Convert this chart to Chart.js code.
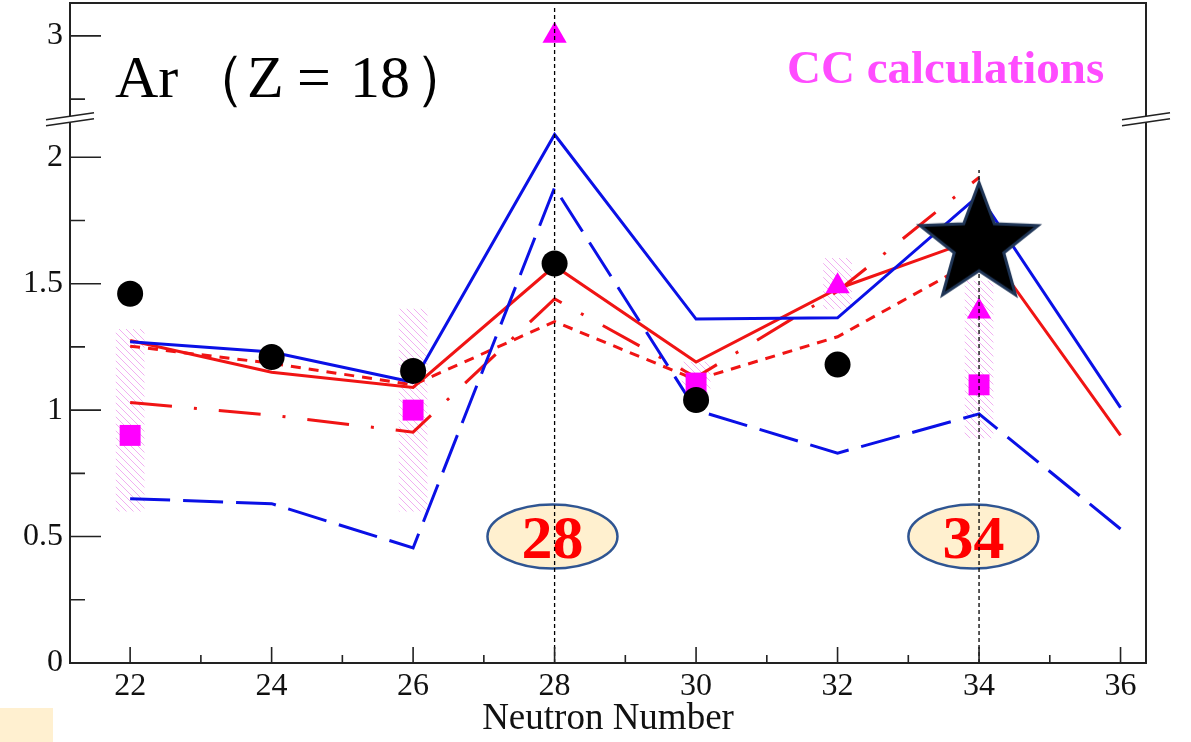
<!DOCTYPE html>
<html>
<head>
<meta charset="utf-8">
<script src="https://cdn.jsdelivr.net/npm/chart.js@4"></script>
<style>
html, body { margin: 0; padding: 0; background: #fff; }
</style>
</head>
<body>
<canvas id="ar" width="1191" height="742"></canvas>
<script>
// neutron numbers (x) for the calculated curves
const neutrons = [22, 24, 26, 28, 30, 32, 34, 36];
const blueSolid = [1.27, 1.23, 1.11, 2.09, 1.36, 1.365, 1.85, 1.01];
const blueDash = [0.65, 0.63, 0.455, 1.88, 1.0, 0.83, 0.985, 0.53];
const redSolid = [1.275, 1.15, 1.09, 1.57, 1.19, 1.48, 1.68, 0.90];
const redShortDash = [1.253, 1.185, 1.10, 1.35, 1.12, 1.29, 1.60];
const redDashDot = [1.03, 0.98, 0.913, 1.44, 1.13, 1.47, 1.92];

// experiment (black circles) and new point (star)
const expN = [22, 24, 26, 28, 30, 32];
const expVal = [1.46, 1.21, 1.155, 1.58, 1.04, 1.18];
const starN = [34];
const starVal = [1.654];

// CC calculations
const ccSquareN = [22, 26, 30, 34];
const ccSquareVal = [0.90, 1.00, 1.107, 1.10];
const ccTriN = [28, 32, 34];
const ccTriVal = [3.0, 1.49, 1.39];
const bandN = [22, 26, 30, 32, 34];
const bandLo = [0.60, 0.60, 1.07, 1.40, 0.89];
const bandHi = [1.32, 1.40, 1.19, 1.60, 1.51];

// shell closures marked on the plot
const shellN = [28, 34];
const shellTop = [3.12, 1.95];
const shellLabels = ['28', '34'];
const shellLabelN = [27.97, 33.92];
const shellLabelY = 0.5;

// axes
const xMajor = [22, 24, 26, 28, 30, 32, 34, 36];
const xMinor = [23, 25, 27, 29, 31, 33, 35];
const yMajor = [0, 0.5, 1, 1.5, 2, 3];
const yMajorLabels = ['0', '0.5', '1', '1.5', '2', '3'];
const yMinor = [0.25, 0.75, 1.25, 1.75, 2.75];

// broken y axis: values above the break are shifted down
const breakAt = 2.162;
const breakShift = 0.52;
function brk(v) { return v > 2.3 ? v - breakShift : v; }
function pts(xs, ys) { return ys.map((y, i) => ({ x: xs[i], y: brk(y) })); }

const serif = '"Liberation Serif", "Times New Roman", serif';

function hatch() {
  const c = document.createElement('canvas');
  const s = 7;
  c.width = s; c.height = s;
  const g = c.getContext('2d');
  g.strokeStyle = 'rgba(230,110,230,0.55)';
  g.lineWidth = 1;
  for (const k of [-s, 0, s]) {
    g.beginPath();
    g.moveTo(k, 0);
    g.lineTo(k + s, s);
    g.stroke();
  }
  return g.createPattern(c, 'repeat');
}

function starImg(R) {
  const c = document.createElement('canvas');
  const s = Math.ceil(R * 2 + 8);
  c.width = s; c.height = s;
  const g = c.getContext('2d');
  const cx = s / 2, cy = s / 2, r = R * 0.42;
  g.beginPath();
  for (let i = 0; i < 10; i++) {
    const a = -Math.PI / 2 + i * Math.PI / 5;
    const rr = i % 2 ? r : R;
    g.lineTo(cx + rr * Math.cos(a), cy + rr * Math.sin(a));
  }
  g.closePath();
  g.fillStyle = '#000';
  g.fill();
  g.lineWidth = 3;
  g.strokeStyle = '#1f3556';
  g.stroke();
  return c;
}

function curve(data, color, dash, order) {
  return {
    type: 'line', data: data, borderColor: color, borderWidth: 3,
    borderDash: dash, pointRadius: 0, tension: 0, fill: false, order: order
  };
}

function noPad(s) {
  s.paddingTop = 0; s.paddingBottom = 0; s.paddingLeft = 0; s.paddingRight = 0;
}

const decor = {
  id: 'decor',
  beforeDraw(chart) {
    const ctx = chart.ctx;
    ctx.save();
    ctx.fillStyle = '#fff';
    ctx.fillRect(0, 0, chart.width, chart.height);
    ctx.fillStyle = '#fff0d0';
    ctx.fillRect(0, 708, 53, 34);
    ctx.restore();
  },
  beforeDatasetsDraw(chart) {
    const ctx = chart.ctx, xs = chart.scales.x, ys = chart.scales.y;
    ctx.save();
    shellLabels.forEach((t, i) => {
      const cx = xs.getPixelForValue(shellLabelN[i]);
      const cy = ys.getPixelForValue(shellLabelY);
      ctx.beginPath();
      ctx.ellipse(cx, cy, 65, 32, 0, 0, Math.PI * 2);
      ctx.fillStyle = '#fff0cf';
      ctx.fill();
      ctx.lineWidth = 2.5;
      ctx.strokeStyle = '#2f5592';
      ctx.stroke();
      ctx.fillStyle = '#ff0000';
      ctx.font = 'bold 62px ' + serif;
      ctx.textAlign = 'center';
      ctx.textBaseline = 'alphabetic';
      ctx.fillText(t, cx, cy + 21);
    });
    ctx.restore();
  },
  afterDraw(chart) {
    const ctx = chart.ctx, a = chart.chartArea;
    const xs = chart.scales.x, ys = chart.scales.y;
    ctx.save();
    // ticks pointing inward
    ctx.strokeStyle = '#222';
    ctx.lineWidth = 1.6;
    ctx.beginPath();
    xMajor.forEach(v => { const p = xs.getPixelForValue(v); ctx.moveTo(p, a.bottom); ctx.lineTo(p, a.bottom - 16); });
    xMinor.forEach(v => { const p = xs.getPixelForValue(v); ctx.moveTo(p, a.bottom); ctx.lineTo(p, a.bottom - 8); });
    yMajor.forEach(v => { const p = ys.getPixelForValue(brk(v)); ctx.moveTo(a.left, p); ctx.lineTo(a.left + 31, p); });
    yMinor.forEach(v => { const p = ys.getPixelForValue(brk(v)); ctx.moveTo(a.left, p); ctx.lineTo(a.left + 15, p); });
    ctx.stroke();
    // frame
    ctx.lineWidth = 2;
    ctx.strokeRect(a.left, a.top, a.right - a.left, a.bottom - a.top);
    // axis break marks
    const by = ys.getPixelForValue(breakAt);
    [a.left, a.right].forEach(bx => {
      ctx.fillStyle = '#fff';
      ctx.beginPath();
      ctx.moveTo(bx - 3, by + 0.5);
      ctx.lineTo(bx + 3, by - 0.5);
      ctx.lineTo(bx + 3, by + 5.5);
      ctx.lineTo(bx - 3, by + 6.5);
      ctx.closePath();
      ctx.fill();
      ctx.strokeStyle = '#222';
      ctx.lineWidth = 1.6;
      ctx.beginPath();
      ctx.moveTo(bx - 24, by + 3.5); ctx.lineTo(bx + 24, by - 3.5);
      ctx.moveTo(bx - 24, by + 9.5); ctx.lineTo(bx + 24, by + 2.5);
      ctx.stroke();
    });
    // titles
    ctx.fillStyle = '#000';
    ctx.font = '60px ' + serif;
    ctx.textBaseline = 'alphabetic';
    ctx.textAlign = 'left';
    ctx.fillText('Ar', 115, 97);
    ctx.textAlign = 'right';
    ctx.fillText('（', 246, 97);
    ctx.textAlign = 'left';
    ctx.fillText('Z', 247, 97);
    ctx.fillText('=', 297, 97);
    ctx.fillText('18', 350, 97);
    ctx.fillText('）', 414, 97);
    ctx.fillStyle = '#ff4cff';
    ctx.font = 'bold 47px ' + serif;
    ctx.fillText('CC calculations', 787, 83);
    ctx.restore();
  }
};

new Chart(document.getElementById('ar'), {
  type: 'line',
  data: {
    datasets: [
      { type: 'line', data: pts(starN, starVal), showLine: false,
        pointStyle: starImg(62), pointRadius: 62, order: 0, clip: false },
      ...shellN.map((n, i) => ({
        type: 'line', data: [{ x: n, y: 0 }, { x: n, y: brk(shellTop[i]) }],
        borderColor: '#000', borderWidth: 1.3, borderDash: [4, 3], pointRadius: 0, order: 1
      })),
      { type: 'line', data: pts(expN, expVal), showLine: false, pointStyle: 'circle',
        pointRadius: 13, pointBackgroundColor: '#000', pointBorderWidth: 0, order: 2 },
      { type: 'line', data: pts(ccTriN, ccTriVal), showLine: false, pointStyle: 'triangle',
        pointRadius: 14, pointBackgroundColor: '#ff00ff', pointBorderWidth: 0, order: 2 },
      { type: 'line', data: pts(ccSquareN, ccSquareVal), showLine: false, pointStyle: 'rect',
        pointRadius: 14.8, pointBackgroundColor: '#ff00ff', pointBorderWidth: 0, order: 2 },
      curve(pts(neutrons, blueSolid), '#0a10e6', [], 3),
      curve(pts(neutrons, blueDash), '#0a10e6', [40, 13], 3),
      curve(pts(neutrons, redSolid), '#f01414', [], 3),
      curve(pts(neutrons, redShortDash), '#f01414', [10, 8], 3),
      curve(pts(neutrons, redDashDot), '#f01414', [42, 22, 3, 22], 3),
      { type: 'bar', data: bandN.map((n, i) => ({ x: n, y: [bandLo[i], bandHi[i]] })),
        backgroundColor: hatch(), borderWidth: 0, barThickness: 28, grouped: false, order: 4 }
    ]
  },
  options: {
    responsive: false,
    animation: false,
    events: [],
    layout: { autoPadding: false, padding: { left: 0, right: 45, top: 3, bottom: 0 } },
    plugins: { legend: { display: false }, tooltip: { enabled: false } },
    scales: {
      x: {
        type: 'linear', min: 21.15, max: 36.36, offset: false,
        grid: { display: false, drawTicks: false, offset: false },
        border: { display: false },
        afterBuildTicks(s) { s.ticks = xMajor.map(v => ({ value: v })); },
        afterFit(s) { s.height = 79; noPad(s); },
        ticks: { padding: 4, color: '#111', font: { family: serif, size: 32 } },
        title: { display: true, text: 'Neutron Number', color: '#111',
          font: { family: serif, size: 37 }, padding: { top: 0, bottom: 1 } }
      },
      y: {
        type: 'linear', min: 0, max: 2.61,
        grid: { display: false, drawTicks: false },
        border: { display: false },
        afterBuildTicks(s) { s.ticks = yMajor.map(v => ({ value: brk(v) })); },
        afterFit(s) { s.width = 70; noPad(s); },
        ticks: { padding: 7, color: '#111', font: { family: serif, size: 32 },
          callback: (v, i) => yMajorLabels[i] }
      }
    }
  },
  plugins: [decor]
});
</script>
</body>
</html>
